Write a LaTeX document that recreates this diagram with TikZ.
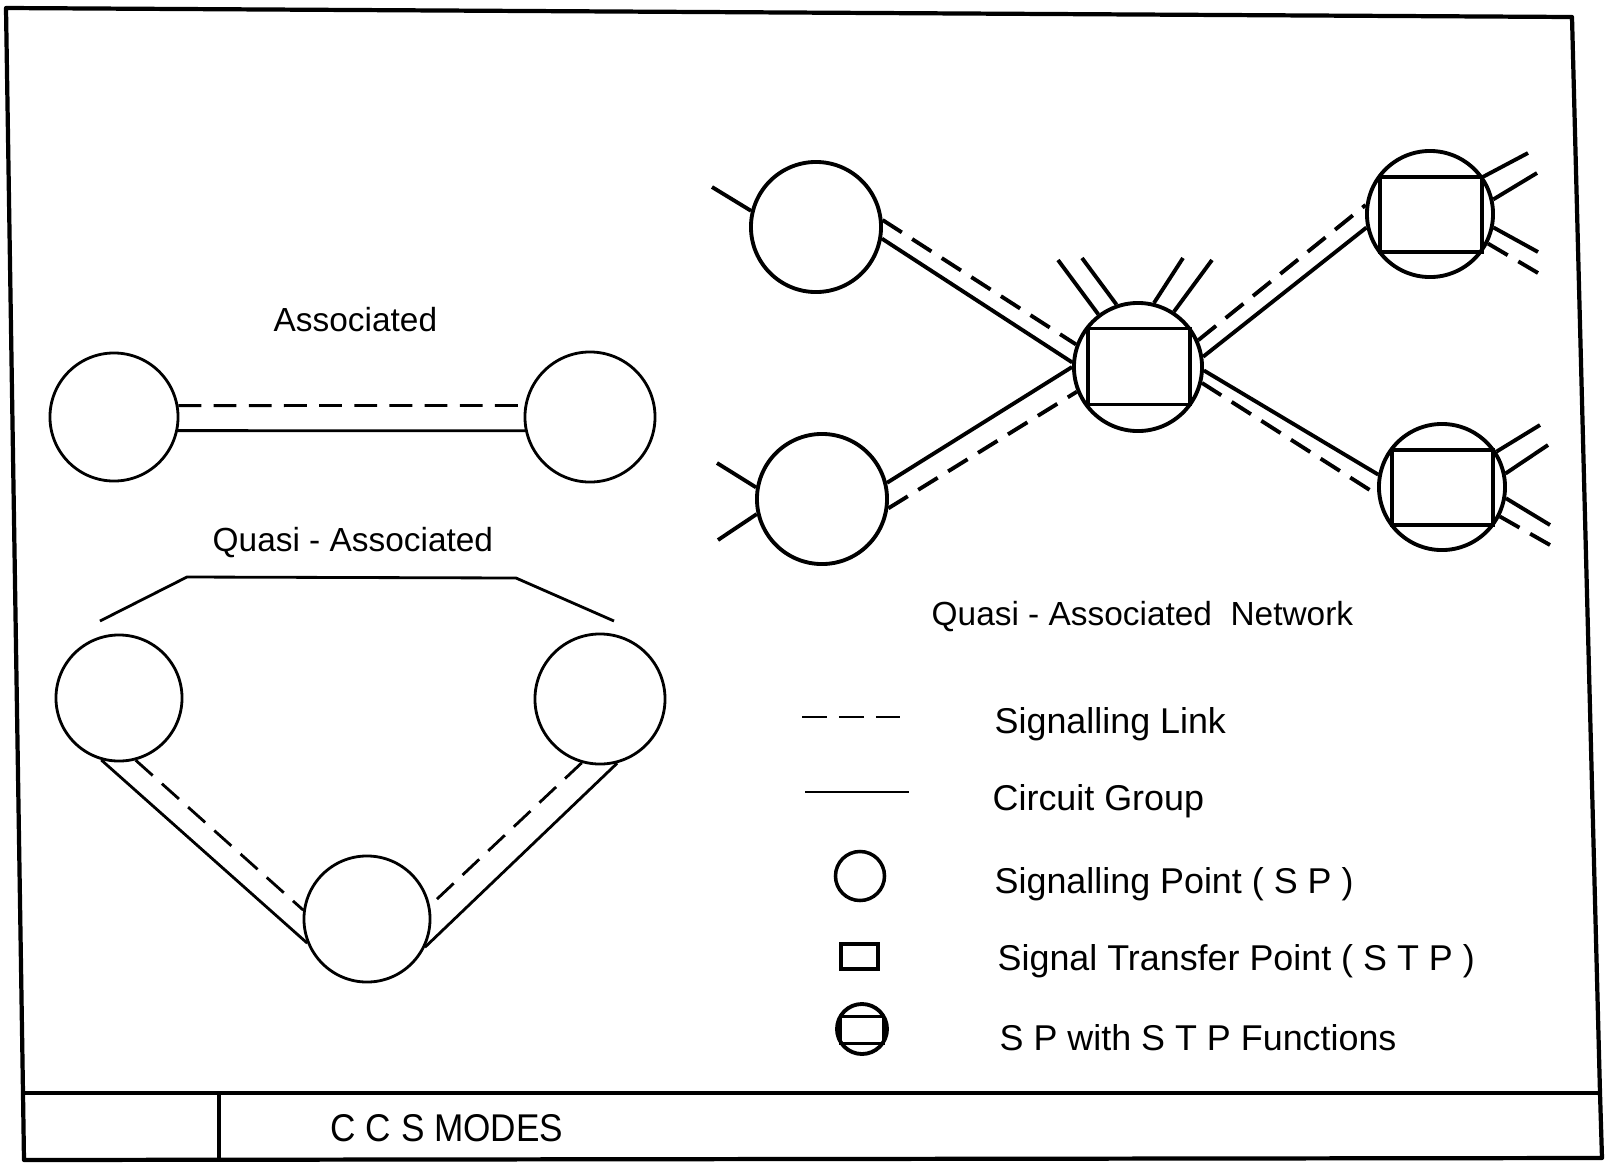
\documentclass[tikz,border=0pt]{standalone}
\usepackage{fontspec}
\setmainfont{Liberation Sans}
\begin{document}
\begin{tikzpicture}[x=0.01cm,y=-0.01cm,
  thinsp/.style={circle,draw,line width=0.8pt,inner sep=0pt,minimum size=1.28cm},
  thicksp/.style={circle,draw,line width=1.1pt,inner sep=0pt,minimum size=1.28cm},
  stpbox/.style={rectangle,draw,line width=1.1pt,inner sep=0pt,minimum width=1.02cm,minimum height=0.76cm},
  thinl/.style={line width=0.8pt},
  thickl/.style={line width=1.1pt},
  sig/.style={dash pattern=on 6.5pt off 3.5pt},
  frame/.style={line width=1.2pt,line join=round},
  lbl/.style={font=\fontsize{9.5}{11}\selectfont,inner sep=0pt,anchor=base west},
  leg/.style={font=\fontsize{10.2}{12}\selectfont,inner sep=0pt,anchor=base west}]
\useasboundingbox (0,0) rectangle (1605,1163);

% frame
\coordinate (fTL) at (6,8);
\coordinate (fTR) at (1572,17);
\coordinate (fMR) at (1600,1093);
\coordinate (fBR) at (1602,1158);
\coordinate (fBL) at (24,1160);
\coordinate (fML) at (23,1093);
\coordinate (fS1) at (219,1093);
\coordinate (fS2) at (219,1160);
\draw[frame] (fML) -- (fTL) -- (fTR) -- (fMR) -- (fBR) -- (fBL) -- cycle;
\draw[frame] (fML) -- (fMR);
\draw[line width=0.9pt] (fS1) -- (fS2);
\node[font=\fontsize{10}{12}\selectfont,inner sep=0pt,anchor=base west,yscale=1.1] (title) at (330,1141) {C C S MODES};

% Associated
\node[lbl] (assoc) at (273,331) {Associated};
\node[thinsp] (aL) at (114,417) {};
\node[thinsp,minimum size=1.30cm] (aR) at (590,417) {};
\draw[thinl,sig] (aL.10) -- (aR.170);
\draw[thinl] (aL.348) -- (aR.192);

% Quasi-Associated
\node[lbl] (quasi) at (212,551) {Quasi - Associated};
\coordinate (b1) at (100,621);
\coordinate (b2) at (187,577);
\coordinate (b3) at (516,578);
\coordinate (b4) at (614,621);
\draw[thinl] (b1) -- (b2) -- (b3) -- (b4);
\node[thinsp,minimum size=1.26cm] (qL) at (119,698) {};
\node[thinsp,minimum size=1.30cm] (qR) at (600,699) {};
\node[thinsp,minimum size=1.26cm] (qB) at (367,919) {};
\draw[thinl] (qL.254) -- (qB.202);
\draw[thinl,sig] (qL.285) -- (qB.172);
\draw[thinl] (qR.285) -- (qB.334);
\draw[thinl,sig] (qR.254) -- (qB.12);

% Quasi-Associated network
\node[thicksp,minimum size=1.30cm] (tl) at (816,227) {};
\node[thicksp,minimum size=1.30cm] (bl) at (822,499) {};
\node[thicksp] (hub) at (1138,367) {};
\node[stpbox] (hubbox) at (1139,366.5) {};
\node[thicksp,minimum size=1.26cm] (tr) at (1430,214) {};
\node[stpbox,minimum height=0.75cm] (trbox) at (1431,214.5) {};
\node[thicksp,minimum size=1.26cm] (br) at (1442,487) {};
\node[stpbox,minimum width=1.01cm,minimum height=0.75cm] (brbox) at (1442.5,487.5) {};

\draw[thickl] (tl.350) -- (hub.176);
\draw[thickl,sig] (tl.6) -- (hub.160);
\draw[thickl] (bl.14) -- (hub.180);
\draw[thickl,sig] (bl.352) -- (hub.202);
\draw[thickl] (hub.9) -- (tr.192);
\draw[thickl,sig] (hub.24) -- (tr.172);
\draw[thickl] (hub.357) -- (br.169);
\draw[thickl,sig] (hub.346) -- (br.187);

% stubs
\coordinate (tlS) at (712,187);
\coordinate (blS1) at (717,463);
\coordinate (blS2) at (718,540);
\coordinate (hS1) at (1058,260);
\coordinate (hS2) at (1082,258);
\coordinate (hS3) at (1183,258);
\coordinate (hS4) at (1212,260);
\coordinate (trS1) at (1528,153);
\coordinate (trS2) at (1537,173);
\coordinate (trS3) at (1538,252);
\coordinate (trS4) at (1538,273);
\coordinate (brS1) at (1540,425);
\coordinate (brS2) at (1548,445);
\coordinate (brS3) at (1550,525);
\coordinate (brS4) at (1550,545);
\draw[thickl] (tlS) -- (tl.166);
\draw[thickl] (blS1) -- (bl.170);
\draw[thickl] (blS2) -- (bl.193);
\draw[thickl] (hS1) -- (hub.127);
\draw[thickl] (hS2) -- (hub.109);
\draw[thickl] (hS3) -- (hub.76);
\draw[thickl] (hS4) -- (hub.57);
\draw[thickl] (trS1) -- (tr.35);
\draw[thickl] (trS2) -- (tr.13);
\draw[thickl] (trS3) -- (tr.348);
\draw[thickl,sig] (trS4) -- (tr.333);
\draw[thickl] (brS1) -- (br.33);
\draw[thickl] (brS2) -- (br.12);
\draw[thickl] (brS3) -- (br.350);
\draw[thickl,sig] (brS4) -- (br.333);

\node[font=\fontsize{9.5}{11}\selectfont,inner sep=0pt,anchor=base west] (netlbl) at (931,625) {Quasi - Associated\ \ Network};

% legend
\coordinate (ld1) at (802,717);
\coordinate (ld2) at (903,717);
\draw[thinl,dash pattern=on 7pt off 3.5pt] (ld1) -- (ld2);
\coordinate (lc1) at (805,792);
\coordinate (lc2) at (909,792);
\draw[thinl] (lc1) -- (lc2);
\node[circle,draw,line width=1pt,inner sep=0pt,minimum size=0.49cm] (legsp) at (860,876) {};
\node[rectangle,draw,line width=1pt,inner sep=0pt,minimum width=0.37cm,minimum height=0.25cm] (legstp) at (859.5,956.5) {};
\node[circle,draw,line width=1.1pt,inner sep=0pt,minimum size=0.50cm] (legboth) at (862,1029) {};
\node[rectangle,draw,line width=1pt,inner sep=0pt,minimum width=0.43cm,minimum height=0.27cm] (legbothbox) at (862,1030) {};

\node[leg] (t1) at (994,733) {Signalling Link};
\node[leg] (t2) at (992,810) {Circuit Group};
\node[leg] (t3) at (994,893) {Signalling Point ( S P )};
\node[leg] (t4) at (997,970) {Signal Transfer Point ( S T P )};
\node[leg] (t5) at (999,1050) {S P with S T P Functions};
\end{tikzpicture}
\end{document}
